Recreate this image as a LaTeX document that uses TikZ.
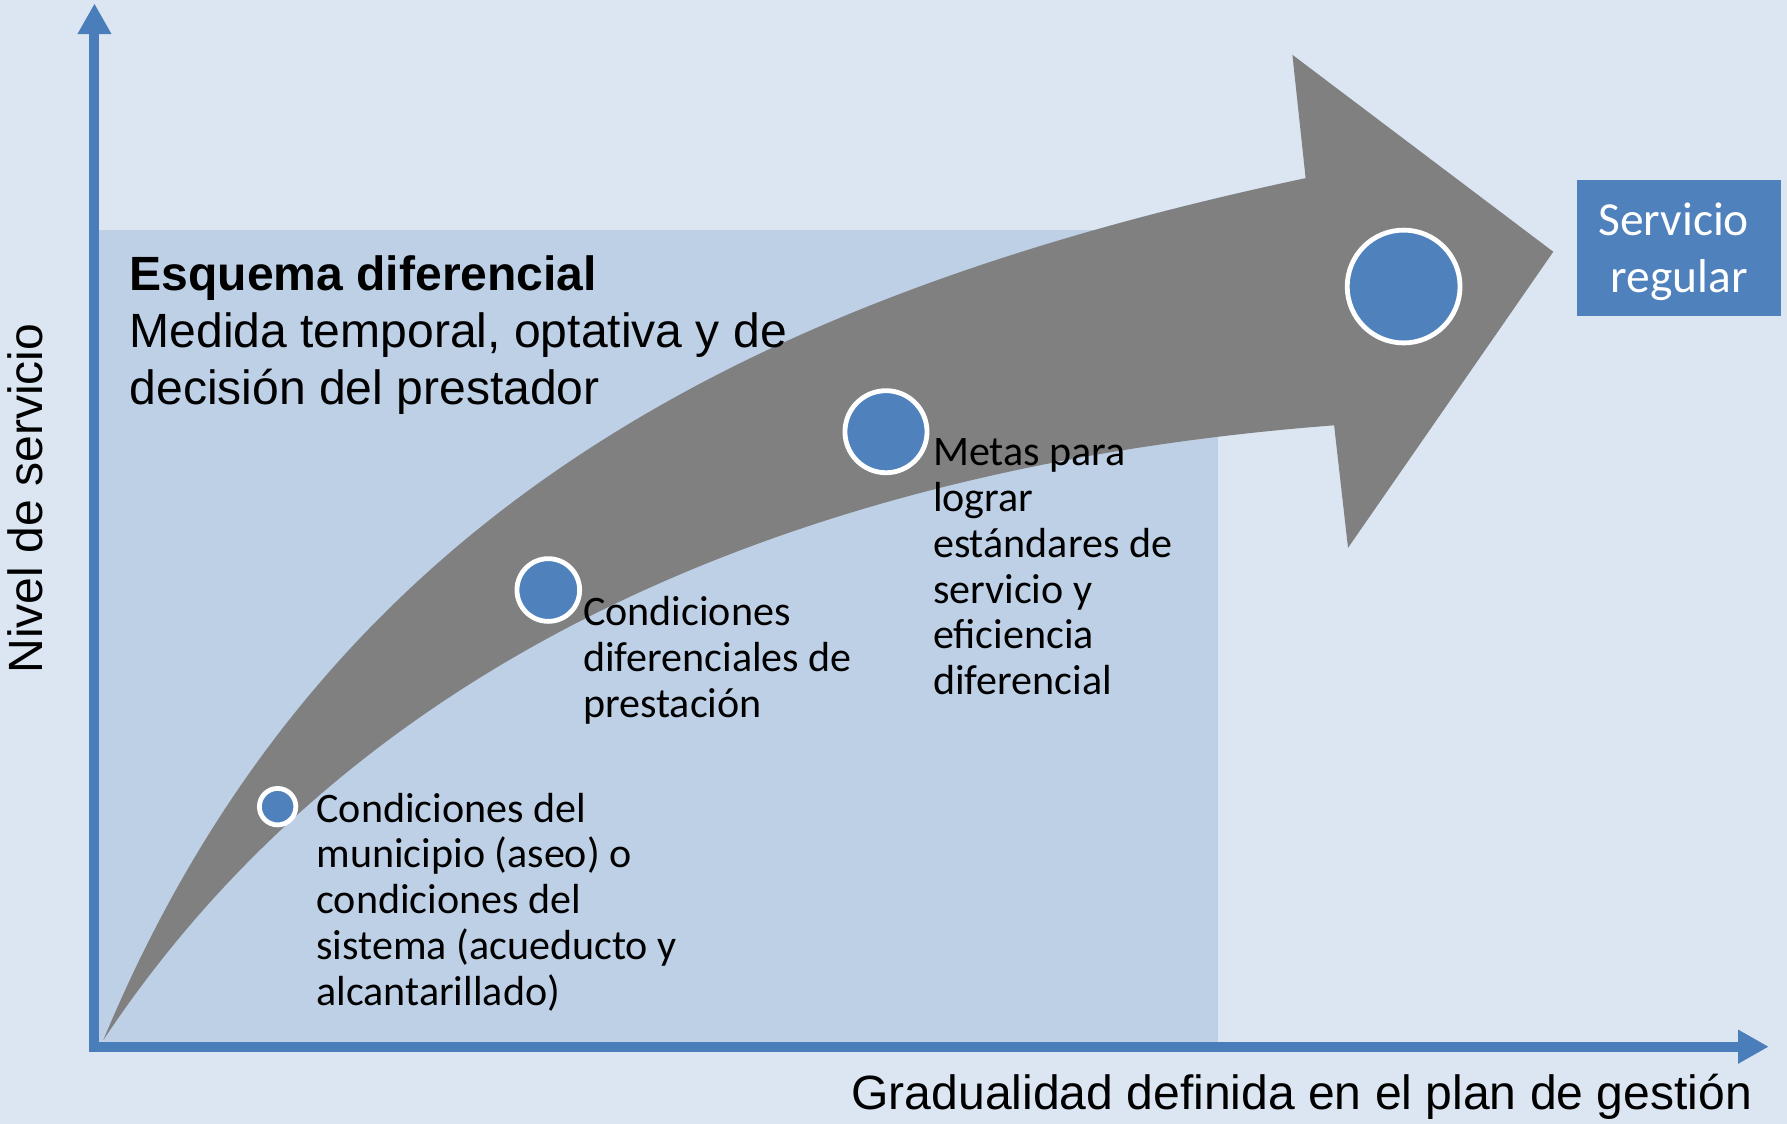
\documentclass[tikz,border=0pt]{standalone}
\usepackage{fontspec}
\setmainfont{Liberation Sans}
\newfontfamily\calibrifont{Carlito}
\usepackage{tikz}
\usetikzlibrary{arrows.meta}

\definecolor{bgblue}{HTML}{DCE6F2}
\definecolor{panelblue}{HTML}{BDD0E6}
\definecolor{axisblue}{HTML}{4A7EBB}
\definecolor{dotblue}{HTML}{4F81BD}
\definecolor{arrowgrey}{HTML}{808080}

\begin{document}
\begin{tikzpicture}[font=\fontsize{12}{14.2}\selectfont,
    axis/.style={draw=axisblue, line width=2.5pt, -{Triangle[length=0.27cm,width=0.28cm]}},
    dot/.style={circle, fill=dotblue, draw=white, line width=1.2pt, inner sep=0pt},
    note/.style={anchor=north west, align=left, inner sep=0pt, font=\calibrifont\fontsize{10.5}{11.45}\selectfont}]
        % Background
        \useasboundingbox (0,0) rectangle (15.68,9.86);
        \fill[bgblue] (0,0) rectangle (15.68,9.86);
        \fill[panelblue] (0.87,0.68) rectangle (10.69,7.84);

        % Curved arrow
        \fill[arrowgrey] (0.907,0.735) .. controls (2.827,5.35) and (6.566,7.257) .. (11.456,8.297)
            -- (11.34,9.379) -- (13.629,7.651) -- (11.828,5.053) -- (11.706,6.128)
            .. controls (7.718,5.824) and (3.396,4.483) .. (0.907,0.735) -- cycle;

        % Axes
        \coordinate (origin) at (0.829,0.63);
        \coordinate (ytop) at (0.829,9.83);
        \coordinate (xstart) at (0.79,0.676);
        \coordinate (xend) at (15.52,0.676);
        \draw[axis] (origin) -- (ytop);
        \draw[axis] (xstart) -- (xend);
        \node[rotate=90, anchor=base, inner sep=0pt] (ylabel) at (0.375,5.485) {Nivel de servicio};
        \node[anchor=base east, inner sep=0pt] (xlabel) at (15.38,0.124) {Gradualidad definida en el plan de gestión};

        % Title
        \node[anchor=north west, align=left, inner sep=0pt] (title) at (1.13,7.624)
            {\textbf{Esquema diferencial}\\Medida temporal, optativa y de\\decisión del prestador};

        % Milestones
        \node[dot, minimum size=0.32cm] (d1) at (2.436,2.782) {};
        \node[dot, minimum size=0.55cm] (d2) at (4.811,4.683) {};
        \node[dot, minimum size=0.72cm] (d3) at (7.774,6.072) {};
        \node[dot, minimum size=0.99cm] (d4) at (12.316,7.346) {};

        \node[note] (n1) at (2.77,2.91) {Condiciones del\\municipio (aseo) o\\condiciones del\\sistema (acueducto y\\alcantarillado)};
        \node[note] (n2) at (5.11,4.635) {Condiciones\\diferenciales de\\prestación};
        \node[note] (n3) at (8.18,6.02) {Metas para\\lograr\\estándares de\\servicio y\\eficiencia\\diferencial};

        % Target
        \node[fill=dotblue, minimum width=1.795cm, minimum height=1.194cm, inner sep=0pt] (regular) at (14.733,7.683) {};
        \node[text=white, align=center, inner sep=0pt, font=\calibrifont\fontsize{11.85}{14.2}\selectfont]
            (regulartext) at ([yshift=-0.03cm]regular.center) {Servicio\hspace*{0.23em}\\regular};
\end{tikzpicture}
\end{document}
